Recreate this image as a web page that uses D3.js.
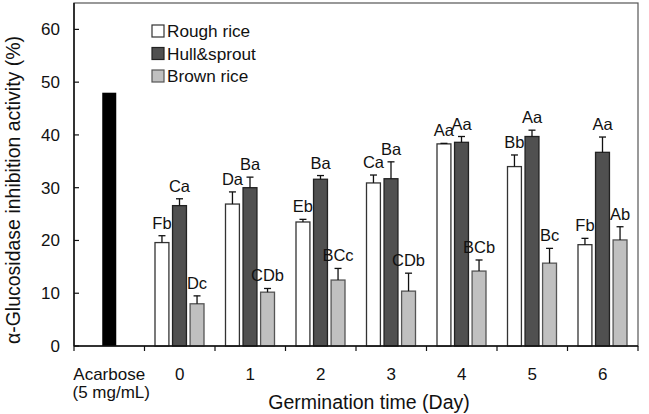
<!DOCTYPE html>
<html><head><meta charset="utf-8">
<script src="https://cdn.jsdelivr.net/npm/d3@7"></script>
<style>body{margin:0;background:#fff}text{font-family:"Liberation Sans",Arial,sans-serif;fill:#111}</style>
</head><body><svg id="c" width="649" height="414"></svg>
<script>
// ---- data ----
const groups = ["Acarbose", "0", "1", "2", "3", "4", "5", "6"];
const acarboseSub = "(5 mg/mL)";
const acarboseValue = 48.0;
const series = ["Rough rice", "Hull&sprout", "Brown rice"];
const days = ["0", "1", "2", "3", "4", "5", "6"];
const roughVals = [19.6, 26.9, 23.5, 30.9, 38.3, 34.0, 19.2];
const roughErr  = [1.3, 2.3, 0.5, 1.5, 0.1, 2.2, 1.2];
const roughLbl  = ["Fb", "Da", "Eb", "Ca", "Aa", "Bb", "Fb"];
const hullVals  = [26.6, 30.0, 31.6, 31.7, 38.6, 39.7, 36.7];
const hullErr   = [1.3, 2.0, 0.7, 3.2, 1.1, 1.2, 2.9];
const hullLbl   = ["Ca", "Ba", "Ba", "Ba", "Aa", "Aa", "Aa"];
const brownVals = [8.0, 10.2, 12.5, 10.4, 14.2, 15.7, 20.1];
const brownErr  = [1.5, 0.7, 2.2, 3.4, 2.1, 2.8, 2.5];
const brownLbl  = ["Dc", "CDb", "BCc", "CDb", "BCb", "Bc", "Ab"];
const yTicks = [0, 10, 20, 30, 40, 50, 60];
const xTitle = "Germination time (Day)";
const yTitle = "α-Glucosidase inhibition activity (%)";

// ---- layout ----
const svg = d3.select("#c");
const L = 74, R = 638, T = 3, B = 346;
const fills = ["#ffffff", "#505050", "#c0c0c0"];
const strokes = ["#333", "#222", "#555"];

const x = d3.scaleBand().domain(groups).range([L, R]).padding(0);
const xi = d3.scaleBand().domain(series).range([10, 60]).paddingInner(0.15).paddingOuter(0);
const y = d3.scaleLinear().domain([0, 65]).range([B, T]);

const rows = [];
const vals = [roughVals, hullVals, brownVals], errs = [roughErr, hullErr, brownErr], lbls = [roughLbl, hullLbl, brownLbl];
days.forEach((d, i) => series.forEach((s, k) => rows.push({g: d, s, k, v: vals[k][i], e: errs[k][i], l: lbls[k][i]})));

// frame
svg.append("rect").attr("x", L).attr("y", T).attr("width", R - L).attr("height", B - T)
  .attr("fill", "none").attr("stroke", "#555").attr("stroke-width", 1.2);

// acarbose bar
const aw = 14;
svg.append("rect").attr("x", x("Acarbose") + x.bandwidth() / 2 - aw / 2).attr("y", y(acarboseValue))
  .attr("width", aw).attr("height", B - y(acarboseValue)).attr("fill", "#000");

// bars
svg.selectAll("rect.bar").data(rows).join("rect").attr("class", "bar")
  .attr("x", d => x(d.g) + xi(d.s) + 0.5).attr("y", d => y(d.v))
  .attr("width", xi.bandwidth() - 1).attr("height", d => B - y(d.v))
  .attr("fill", d => fills[d.k]).attr("stroke", d => strokes[d.k]).attr("stroke-width", 1.3);

// error bars
const eg = svg.append("g").attr("stroke", "#111").attr("stroke-width", 1.3);
rows.forEach(d => {
  const cx = x(d.g) + xi(d.s) + xi.bandwidth() / 2;
  eg.append("line").attr("x1", cx).attr("x2", cx).attr("y1", y(d.v)).attr("y2", y(d.v + d.e));
  eg.append("line").attr("x1", cx - 3.5).attr("x2", cx + 3.5).attr("y1", y(d.v + d.e)).attr("y2", y(d.v + d.e));
});

// letters
svg.selectAll("text.lbl").data(rows).join("text").attr("class", "lbl")
  .attr("x", d => x(d.g) + xi(d.s) + xi.bandwidth() / 2).attr("y", d => y(d.v + d.e) - 7)
  .attr("text-anchor", "middle").attr("font-size", 16.5).text(d => d.l);

// axes lines
svg.append("line").attr("x1", L).attr("x2", L).attr("y1", T).attr("y2", B).attr("stroke", "#111").attr("stroke-width", 1.5);
svg.append("line").attr("x1", L).attr("x2", R).attr("y1", B).attr("y2", B).attr("stroke", "#111").attr("stroke-width", 1.5);

// y ticks (inward)
yTicks.forEach(t => {
  svg.append("line").attr("x1", L).attr("x2", L + 5).attr("y1", y(t)).attr("y2", y(t)).attr("stroke", "#111").attr("stroke-width", 1.2);
  svg.append("text").attr("x", 60).attr("y", y(t)).attr("dy", "0.35em").attr("text-anchor", "end")
    .attr("font-size", 17).text(t);
});
// x ticks (outward, at band edges)
groups.concat(["end"]).forEach((g, i) => {
  const xx = L + i * x.step();
  svg.append("line").attr("x1", xx).attr("x2", xx).attr("y1", B).attr("y2", B + 5).attr("stroke", "#111").attr("stroke-width", 1.2);
});
groups.forEach(g => {
  svg.append("text").attr("x", x(g) + x.bandwidth() / 2).attr("y", 380).attr("text-anchor", "middle")
    .attr("font-size", 17).text(g);
});
svg.append("text").attr("x", x("Acarbose") + x.bandwidth() / 2 + 2).attr("y", 398).attr("text-anchor", "middle")
  .attr("font-size", 17).text(acarboseSub);

// titles
svg.append("text").attr("x", 369).attr("y", 409).attr("text-anchor", "middle").attr("font-size", 19.5).text(xTitle);
svg.append("text").attr("transform", "translate(20,190) rotate(-90)").attr("text-anchor", "middle")
  .attr("font-size", 19.5).text(yTitle);

// legend
series.forEach((s, k) => {
  const ly = 25 + k * 22.5;
  svg.append("rect").attr("x", 152).attr("y", ly).attr("width", 12).attr("height", 12)
    .attr("fill", fills[k]).attr("stroke", strokes[k]).attr("stroke-width", 1.2);
  svg.append("text").attr("x", 167).attr("y", ly + 12).attr("font-size", 17.2).text(s);
});
</script></body></html>
